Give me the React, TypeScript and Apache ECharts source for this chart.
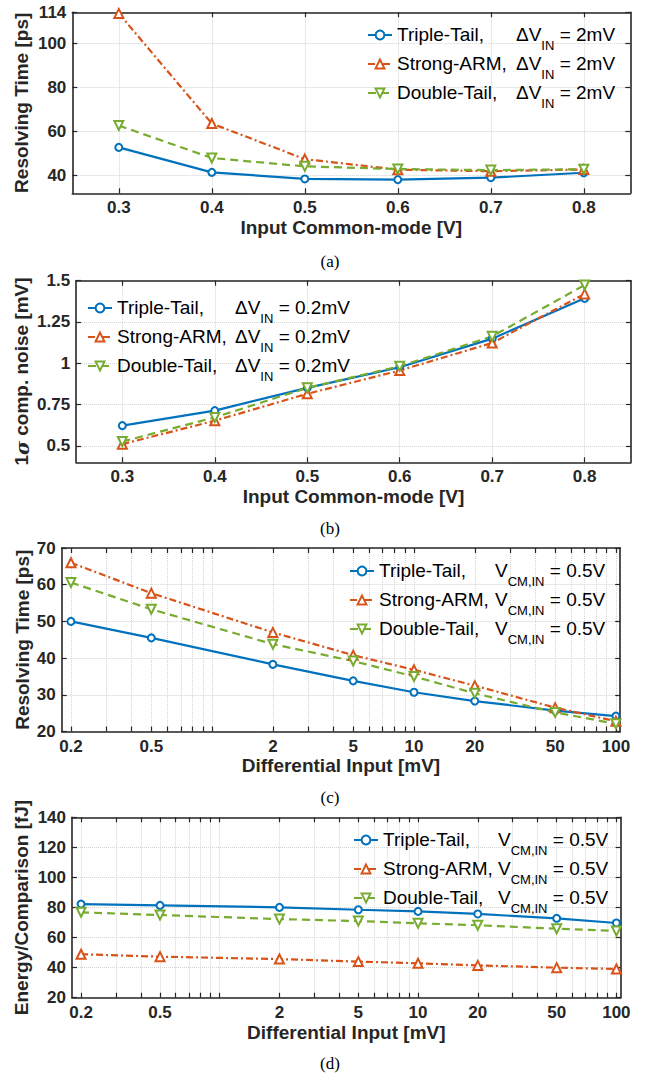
import React, { useEffect, useRef } from 'react';
import * as echarts from 'echarts';

// ---------- data ----------
const CM_VALUES = [0.3, 0.4, 0.5, 0.6, 0.7, 0.8];
const A_TRIPLE = [52.8, 41.5, 38.5, 38.2, 39.1, 41.3];
const A_STRONG = [113.5, 63.6, 47.5, 42.7, 42.0, 42.8];
const A_DOUBLE = [62.7, 48.0, 44.2, 43.0, 42.5, 42.9];

const B_TRIPLE = [0.622, 0.713, 0.851, 0.976, 1.149, 1.393];
const B_STRONG = [0.51, 0.652, 0.815, 0.956, 1.123, 1.42];
const B_DOUBLE = [0.526, 0.672, 0.851, 0.982, 1.163, 1.474];

const DI_VALUES = [0.2, 0.5, 2, 5, 10, 20, 50, 100];
const C_TRIPLE = [50.0, 45.5, 38.3, 33.8, 30.7, 28.3, 25.7, 24.2];
const C_STRONG = [66.0, 57.7, 47.0, 40.8, 36.8, 32.5, 26.5, 22.8];
const C_DOUBLE = [60.6, 53.3, 43.8, 39.2, 35.0, 30.4, 25.2, 22.1];

const D_TRIPLE = [82.3, 81.4, 80.1, 78.5, 77.4, 75.7, 72.8, 69.7];
const D_STRONG = [48.9, 47.3, 45.7, 44.0, 42.9, 41.5, 40.0, 39.1];
const D_DOUBLE = [76.8, 75.0, 72.3, 71.0, 69.5, 68.2, 65.9, 64.4];

// tick labels
const CM_TICKS = [0.3, 0.4, 0.5, 0.6, 0.7, 0.8];
const DI_TICKS = [0.2, 0.5, 2, 5, 10, 20, 50, 100];
const DI_MINOR_MANTISSA = [1, 2, 3, 4, 5, 6, 7, 8, 9];
const DI_DECADES = [0.1, 1, 10, 100];
const A_YTICKS = [40, 60, 80, 100, 114];
const B_YTICKS = [0.5, 0.75, 1, 1.25, 1.5];
const C_YTICKS = [20, 30, 40, 50, 60, 70];
const D_YTICKS = [20, 40, 60, 80, 100, 120, 140];

// ---------- styling ----------
const FONT = '"Liberation Sans", Arial, Helvetica, sans-serif';
const SERIF = '"Liberation Serif", "Times New Roman", serif';
const AX = '#262626';
const GRIDC = '#d4d4d4';

const LOG_MIN = 0.18;
const LOG_MAX = 105;
const lg = (v: number) => Math.log10(v);

const DI_ALL_TICKS: number[] = [];
DI_DECADES.forEach((d) => DI_MINOR_MANTISSA.forEach((m) => {
  const v = Number((m * d).toPrecision(3));
  if (v >= LOG_MIN && v <= LOG_MAX) DI_ALL_TICKS.push(v);
}));

const SERIES_STYLE: Record<string, any> = {
  triple: { color: '#0072BD', symbol: 'emptyCircle', symbolSize: 7, rotate: 0, type: 'solid' },
  strong: { color: '#D95319', symbol: 'emptyTriangle', symbolSize: 9, rotate: 0, type: [7, 3, 2, 3] },
  double: { color: '#77AC30', symbol: 'emptyTriangle', symbolSize: 9, rotate: 180, type: [8, 5] },
};

const tickStyle = { show: true, inside: true, length: 5, lineStyle: { color: AX, width: 1.2 } };
const lineStyleAx = { show: true, onZero: false, lineStyle: { color: AX, width: 1.6 } };
const labelStyle = { fontSize: 17, fontWeight: 'bold', color: AX, fontFamily: FONT };
const nameStyle = { fontSize: 19, fontWeight: 'bold', color: AX, fontFamily: FONT };

function xAxes(gridIndex: number, min: number, max: number, labels: number[], ticks: number[], fmt: (v: number) => string, name: string, nameGap: number) {
  const base: any = { type: 'value', gridIndex, min, max, axisLine: lineStyleAx };
  return [
    {
      ...base, position: 'bottom', name, nameLocation: 'middle', nameGap, nameMoveOverlap: false,
      nameTextStyle: nameStyle,
      axisTick: { ...tickStyle, customValues: ticks },
      axisLabel: { ...labelStyle, customValues: labels, formatter: fmt, margin: 6 },
      splitLine: { show: true, lineStyle: { color: GRIDC, type: 'dotted', width: 1 } },
    },
    {
      ...base, position: 'top',
      axisTick: { ...tickStyle, customValues: ticks },
      axisLabel: { show: false },
      splitLine: { show: false },
    },
  ];
}

function yAxes(gridIndex: number, min: number, max: number, ticks: number[], name: string, nameGap: number, rich?: any) {
  const base: any = { type: 'value', gridIndex, min, max, axisLine: lineStyleAx };
  return [
    {
      ...base, position: 'left', name, nameLocation: 'middle', nameGap, nameRotate: 90, nameMoveOverlap: false,
      nameTextStyle: { ...nameStyle, rich },
      axisTick: { ...tickStyle, customValues: ticks },
      axisLabel: { ...labelStyle, customValues: ticks, margin: 6 },
      splitLine: { show: true, lineStyle: { color: GRIDC, type: 'dotted', width: 1 } },
    },
    {
      ...base, position: 'right',
      axisTick: { ...tickStyle, customValues: ticks },
      axisLabel: { show: false },
      splitLine: { show: false },
    },
  ];
}

function mkSeries(name: string, kind: string, panel: number, xs: number[], ys: number[], logX: boolean) {
  const s = SERIES_STYLE[kind];
  return {
    type: 'line', name,
    xAxisIndex: panel * 2, yAxisIndex: panel * 2,
    data: xs.map((x, i) => [logX ? lg(x) : x, ys[i]]),
    symbol: s.symbol, symbolSize: s.symbolSize, symbolRotate: s.rotate,
    lineStyle: { color: s.color, width: 2.2, type: s.type },
    itemStyle: { color: s.color, borderWidth: 1.6 },
    clip: false,
  };
}

// legend texts
const NAMES = {
  aT: 'Triple-Tail, ΔVIN = 2mV', aS: 'Strong-ARM, ΔVIN = 2mV', aD: 'Double-Tail, ΔVIN = 2mV',
  bT: 'Triple-Tail, ΔVIN = 0.2mV', bS: 'Strong-ARM, ΔVIN = 0.2mV', bD: 'Double-Tail, ΔVIN = 0.2mV',
  cT: 'Triple-Tail, VCM,IN = 0.5V', cS: 'Strong-ARM, VCM,IN = 0.5V', cD: 'Double-Tail, VCM,IN = 0.5V',
};
const LEG_TEXT: Record<string, string> = {
  [NAMES.aT]: '{n|Triple-Tail,}{m|ΔV}{s|IN}{m| = 2mV}',
  [NAMES.aS]: '{n|Strong-ARM,}{m|ΔV}{s|IN}{m| = 2mV}',
  [NAMES.aD]: '{n|Double-Tail,}{m|ΔV}{s|IN}{m| = 2mV}',
  [NAMES.bT]: '{n|Triple-Tail,}{m|ΔV}{s|IN}{m| = 0.2mV}',
  [NAMES.bS]: '{n|Strong-ARM,}{m|ΔV}{s|IN}{m| = 0.2mV}',
  [NAMES.bD]: '{n|Double-Tail,}{m|ΔV}{s|IN}{m| = 0.2mV}',
  [NAMES.cT]: '{n|Triple-Tail,}{m|V}{s|CM,IN}{m| = 0.5V}',
  [NAMES.cS]: '{n|Strong-ARM,}{m|V}{s|CM,IN}{m| = 0.5V}',
  [NAMES.cD]: '{n|Double-Tail,}{m|V}{s|CM,IN}{m| = 0.5V}',
};

function legend(names: string[], left: number, top: number, nameW: number) {
  return {
    data: names, orient: 'vertical', left, top, itemGap: 2, itemWidth: 24, itemHeight: 11,
    padding: 0, backgroundColor: 'transparent',
    formatter: (n: string) => LEG_TEXT[n],
    textStyle: {
      fontFamily: FONT, color: '#000', fontSize: 19,
      rich: {
        n: { width: nameW, fontSize: 19, lineHeight: 20, verticalAlign: 'top', fontFamily: FONT, color: '#000' },
        m: { fontSize: 19, lineHeight: 20, verticalAlign: 'top', fontFamily: FONT, color: '#000' },
        s: { fontSize: 13, lineHeight: 13, padding: [14, 0, 0, 0], verticalAlign: 'top', fontFamily: FONT, color: '#000' },
      },
    },
  };
}

function buildOption() {
  const cmFmt = (v: number) => (Math.round(v * 10) / 10).toFixed(1);
  const logFmt = (v: number) => String(Number(Math.pow(10, v).toPrecision(2)));
  const diLabels = DI_TICKS.map(lg);
  const diTicks = DI_ALL_TICKS.map(lg);

  const grids = [
    { left: 72.3, top: 12.3, width: 558, height: 181 },
    { left: 76.1, top: 280.7, width: 554.8, height: 181.6 },
    { left: 61.7, top: 548, width: 558.5, height: 183.5 },
    { left: 72, top: 817.3, width: 548.6, height: 180.4 },
  ].map((g) => ({ ...g, show: false }));

  const xAxis = [
    ...xAxes(0, 0.25, 0.85, CM_TICKS, CM_TICKS, cmFmt, 'Input Common-mode [V]', 25),
    ...xAxes(1, 0.25, 0.85, CM_TICKS, CM_TICKS, cmFmt, 'Input Common-mode [V]', 25),
    ...xAxes(2, lg(LOG_MIN), lg(LOG_MAX), diLabels, diTicks, logFmt, 'Differential Input [mV]', 24),
    ...xAxes(3, lg(LOG_MIN), lg(LOG_MAX), diLabels, diTicks, logFmt, 'Differential Input [mV]', 25),
  ];
  const yAxis = [
    ...yAxes(0, 32, 114, A_YTICKS, 'Resolving Time [ps]', 41),
    ...yAxes(1, 0.4, 1.5, B_YTICKS, '1{g|σ} comp. noise [mV]', 45,
      { g: { fontFamily: '"DejaVu Serif", serif', fontStyle: 'italic', fontSize: 19, color: AX } }),
    ...yAxes(2, 20, 70, C_YTICKS, 'Resolving Time [ps]', 30),
    ...yAxes(3, 20, 140, D_YTICKS, 'Energy/Comparison [fJ]', 41),
  ];

  const series = [
    mkSeries(NAMES.aT, 'triple', 0, CM_VALUES, A_TRIPLE, false),
    mkSeries(NAMES.aS, 'strong', 0, CM_VALUES, A_STRONG, false),
    mkSeries(NAMES.aD, 'double', 0, CM_VALUES, A_DOUBLE, false),
    mkSeries(NAMES.bT, 'triple', 1, CM_VALUES, B_TRIPLE, false),
    mkSeries(NAMES.bS, 'strong', 1, CM_VALUES, B_STRONG, false),
    mkSeries(NAMES.bD, 'double', 1, CM_VALUES, B_DOUBLE, false),
    mkSeries(NAMES.cT, 'triple', 2, DI_VALUES, C_TRIPLE, true),
    mkSeries(NAMES.cS, 'strong', 2, DI_VALUES, C_STRONG, true),
    mkSeries(NAMES.cD, 'double', 2, DI_VALUES, C_DOUBLE, true),
    mkSeries(NAMES.cT, 'triple', 3, DI_VALUES, D_TRIPLE, true),
    mkSeries(NAMES.cS, 'strong', 3, DI_VALUES, D_STRONG, true),
    mkSeries(NAMES.cD, 'double', 3, DI_VALUES, D_DOUBLE, true),
  ];

  const legends = [
    legend([NAMES.aT, NAMES.aS, NAMES.aD], 367, 25, 119),
    legend([NAMES.bT, NAMES.bS, NAMES.bD], 87, 298, 118),
    legend([NAMES.cT, NAMES.cS, NAMES.cD], 349, 561, 116),
    legend([NAMES.cT, NAMES.cS, NAMES.cD], 353, 830, 115),
  ];

  const captions = [
    { t: '(a)', y: 261 },
    { t: '(b)', y: 528 },
    { t: '(c)', y: 797 },
    { t: '(d)', y: 1063 },
  ].map((c) => ({
    type: 'text', x: 330, y: c.y,
    style: { text: c.t, font: `17px ${SERIF}`, fill: '#000', textAlign: 'center', textVerticalAlign: 'middle' },
  }));

  return {
    animation: false,
    backgroundColor: '#fff',
    grid: grids,
    xAxis, yAxis, series,
    legend: legends,
    graphic: captions,
  };
}

export default function App() {
  const ref = useRef<HTMLDivElement>(null);
  useEffect(() => {
    if (!ref.current) return;
    const chart = echarts.init(ref.current, null, { renderer: 'svg' });
    chart.setOption(buildOption() as any);
    return () => chart.dispose();
  }, []);
  return (
    <div
      ref={ref}
      style={{ position: 'absolute', left: 0, top: 0, width: 646, height: 1076, background: '#fff' }}
    />
  );
}
